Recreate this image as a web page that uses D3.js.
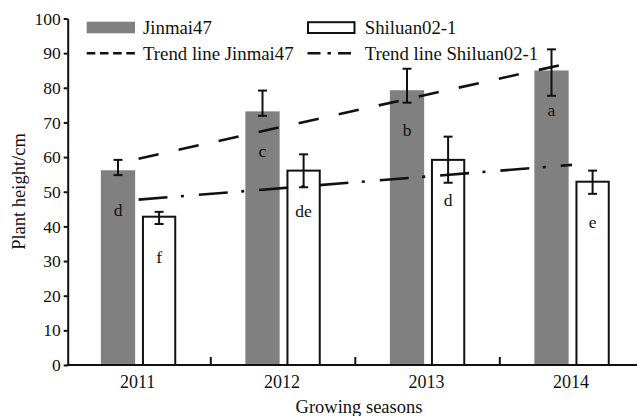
<!DOCTYPE html>
<html>
<head>
<meta charset="utf-8">
<script src="https://cdn.jsdelivr.net/npm/d3@7"></script>
<style>
  html, body { margin: 0; padding: 0; background: #fff; overflow: hidden; }
  svg { display: block; }
  text { font-family: "Liberation Serif", "Times New Roman", serif; fill: #111; }
</style>
</head>
<body>
<svg id="chart" width="637" height="416"></svg>
<script>
// Growing seasons
const years = ["2011", "2012", "2013", "2014"];

// Plant height (cm), Jinmai47
const jinmai = [56.2, 73.2, 79.3, 85.0];
const jinmaiErrUp = [3.0, 6.0, 6.2, 6.1];
const jinmaiErrDown = [1.4, 1.3, 3.6, 7.3];
const jinmaiLetters = ["d", "c", "b", "a"];

// Plant height (cm), Shiluan02-1
const shiluan = [42.8, 56.1, 59.2, 52.9];
const shiluanErrUp = [1.4, 4.7, 6.7, 3.2];
const shiluanErrDown = [2.1, 4.8, 6.6, 3.5];
const shiluanLetters = ["f", "de", "d", "e"];

const yTicks = [0, 10, 20, 30, 40, 50, 60, 70, 80, 90, 100];

const svg = d3.select("#chart");

const x = d3.scaleBand().domain(years).range([66.3, 644.3]).paddingInner(0).paddingOuter(0);
const y = d3.scaleLinear().domain([0, 100]).range([365, 18.5]);

const barW = 34.3, gap = 6.8;
const center = d => x(d) + x.bandwidth() / 2;

const series = [
  { name: "Jinmai47", values: jinmai, up: jinmaiErrUp, down: jinmaiErrDown, letters: jinmaiLetters,
    xOf: yr => center(yr) - gap / 2 - barW, fill: "#808080", stroke: "none" },
  { name: "Shiluan02-1", values: shiluan, up: shiluanErrUp, down: shiluanErrDown, letters: shiluanLetters,
    xOf: yr => center(yr) + gap / 2, fill: "#fff", stroke: "#111" }
];

// Bars
series.forEach(s => {
  const g = svg.append("g");
  g.selectAll("rect").data(years).join("rect")
    .attr("x", yr => s.xOf(yr) + (s.stroke === "none" ? 0 : 1))
    .attr("width", barW - (s.stroke === "none" ? 0 : 2))
    .attr("y", (yr, i) => y(s.values[i]))
    .attr("height", (yr, i) => y(0) - y(s.values[i]))
    .attr("fill", s.fill)
    .attr("stroke", s.stroke)
    .attr("stroke-width", 2);
});

// Error bars
series.forEach(s => {
  const g = svg.append("g").attr("stroke", "#111").attr("stroke-width", 2).attr("fill", "none");
  years.forEach((yr, i) => {
    const cx = s.xOf(yr) + barW / 2;
    const top = y(s.values[i] + s.up[i]);
    const bot = y(s.values[i] - s.down[i]);
    g.append("line").attr("x1", cx).attr("x2", cx).attr("y1", top).attr("y2", bot);
    g.append("line").attr("x1", cx - 4.5).attr("x2", cx + 4.5).attr("y1", top).attr("y2", top);
    g.append("line").attr("x1", cx - 4.5).attr("x2", cx + 4.5).attr("y1", bot).attr("y2", bot);
  });
});

// Significance letters
series.forEach(s => {
  svg.append("g").selectAll("text").data(years).join("text")
    .attr("x", yr => s.xOf(yr) + barW / 2)
    .attr("y", (yr, i) => y(s.values[i]) + 46)
    .attr("text-anchor", "middle")
    .attr("font-size", 17.5)
    .text((yr, i) => s.letters[i]);
});

// Linear trend lines (least squares over season index)
function fit(vals) {
  const n = vals.length;
  const xs = vals.map((v, i) => i);
  const mx = d3.mean(xs), my = d3.mean(vals);
  const slope = d3.sum(xs.map((xi, i) => (xi - mx) * (vals[i] - my))) / d3.sum(xs.map(xi => (xi - mx) ** 2));
  const b = my - slope * mx;
  return [b, b + slope * (n - 1)];
}
const trendStyles = [
  { vals: jinmai, dash: "20.5 20.5" },
  { vals: shiluan, dash: "29 13.5 3 15" }
];
trendStyles.forEach(t => {
  const [v0, v1] = fit(t.vals);
  svg.append("line")
    .attr("x1", center(years[0])).attr("y1", y(v0))
    .attr("x2", center(years[years.length - 1])).attr("y2", y(v1))
    .attr("stroke", "#111").attr("stroke-width", 2.6)
    .attr("stroke-dasharray", t.dash);
});

// Y axis
const yAxis = svg.append("g")
  .attr("transform", "translate(67.7,0)")
  .call(d3.axisLeft(y).tickValues(yTicks).tickSize(4).tickSizeOuter(0).tickPadding(3));
yAxis.select(".domain").attr("stroke", "#111").attr("stroke-width", 2);
yAxis.selectAll(".tick line").attr("stroke", "#111").attr("stroke-width", 2);
yAxis.selectAll(".tick text")
  .attr("font-family", "Liberation Serif, serif").attr("font-size", 17.5).attr("fill", "#111");

// X axis: baseline, ticks between seasons pointing up, labels at group centres
const xg = svg.append("g");
xg.append("line").attr("x1", 66.7).attr("x2", 644).attr("y1", y(0)).attr("y2", y(0))
  .attr("stroke", "#111").attr("stroke-width", 2);
xg.selectAll("line.tk").data(years.slice(1)).join("line").attr("class", "tk")
  .attr("x1", d => x(d)).attr("x2", d => x(d))
  .attr("y1", y(0)).attr("y2", y(0) - 8)
  .attr("stroke", "#111").attr("stroke-width", 2);
xg.selectAll("text").data(years).join("text")
  .attr("x", d => center(d) - 1)
  .attr("y", 388)
  .attr("text-anchor", "middle")
  .attr("font-size", 18)
  .text(d => d);

// Axis titles
svg.append("text")
  .attr("x", 359).attr("y", 413)
  .attr("text-anchor", "middle").attr("font-size", 18.5)
  .text("Growing seasons");
svg.append("text")
  .attr("transform", "translate(25,191.5) rotate(-90)")
  .attr("text-anchor", "middle").attr("font-size", 18.5)
  .text("Plant height/cm");

// Legend
const lg = svg.append("g");
lg.append("rect").attr("x", 86.7).attr("y", 21.7).attr("width", 48.3).attr("height", 11.6).attr("fill", "#808080");
lg.append("text").attr("x", 143).attr("y", 33.5).attr("font-size", 18.8).text("Jinmai47");
lg.append("rect").attr("x", 308).attr("y", 22.2).attr("width", 46.5).attr("height", 10.8)
  .attr("fill", "#fff").attr("stroke", "#111").attr("stroke-width", 2);
lg.append("text").attr("x", 364.7).attr("y", 33.5).attr("font-size", 18.8).text("Shiluan02-1");

lg.append("line").attr("x1", 86.7).attr("x2", 135).attr("y1", 53.3).attr("y2", 53.3)
  .attr("stroke", "#111").attr("stroke-width", 2.6).attr("stroke-dasharray", "8.6 4.6");
lg.append("text").attr("x", 143).attr("y", 59.8).attr("font-size", 18.8).text("Trend line Jinmai47");
lg.append("line").attr("x1", 307.5).attr("x2", 355).attr("y1", 53.3).attr("y2", 53.3)
  .attr("stroke", "#111").attr("stroke-width", 2.6).attr("stroke-dasharray", "13 7 3.5 7 13");
lg.append("text").attr("x", 364.7).attr("y", 59.8).attr("font-size", 18.8).text("Trend line Shiluan02-1");
</script>
</body>
</html>
